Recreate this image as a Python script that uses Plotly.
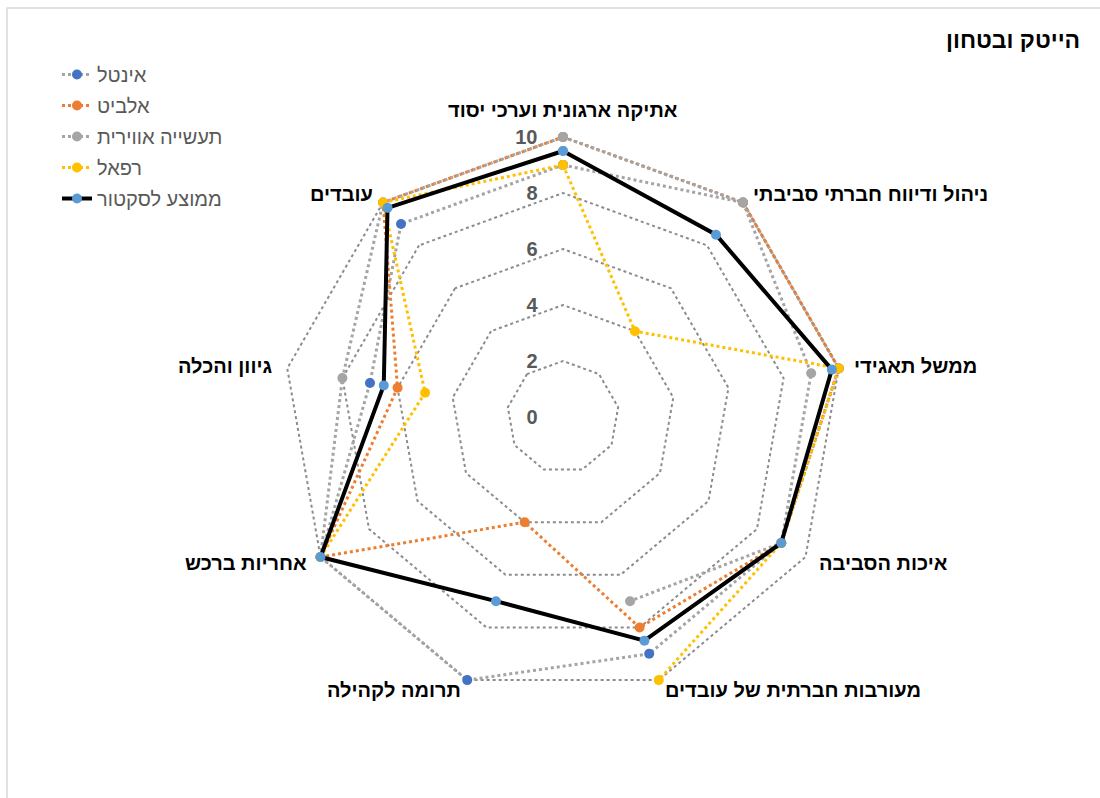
import math
import plotly.graph_objects as go

categories = [
    "אתיקה ארגונית וערכי יסוד",
    "ניהול ודיווח חברתי סביבתי",
    "ממשל תאגידי",
    "איכות הסביבה",
    "מעורבות חברתית של עובדים",
    "תרומה לקהילה",
    "אחריות ברכש",
    "גיוון והכלה",
    "עובדים",
]

intel = [9, 10, 10, 9, 9, 10, 10, 7, 9]
elbit = [10, 10, 10, 9, 8, 4, 10, 6, 10]
iai = [10, 10, 9, 9, 7, None, 10, 8, 10]
rafael = [9, 4, 10, 9, 10, None, 10, 5, 10]
sector_avg = [9.5, 8.5, 9.75, 9, 8.5, 7, 10, 6.5, 9.75]

radial_ticks = [0, 2, 4, 6, 8, 10]

FONT = "Liberation Sans, Arial, DejaVu Sans, sans-serif"

series = [
    ("אינטל", intel, "#A5A5A5", "#4472C4", "dot", 3),
    ("אלביט", elbit, "#ED7D31", "#ED7D31", "dot", 3),
    ("תעשייה אווירית", iai, "#A5A5A5", "#A5A5A5", "dot", 3),
    ("רפאל", rafael, "#FFC000", "#FFC000", "dot", 3),
    ("ממוצע לסקטור", sector_avg, "#000000", "#5B9BD5", "solid", 4),
]

fig = go.Figure()
for name, vals, line_col, mark_col, dash, w in series:
    # close the loop back to the first category
    fig.add_trace(go.Scatterpolar(
        r=vals + vals[:1],
        theta=categories + categories[:1],
        name=name,
        legendgroup=name,
        mode="lines+markers",
        connectgaps=False,
        cliponaxis=False,
        line=dict(color=line_col, width=w, dash=dash),
        marker=dict(color=mark_col, size=10, line=dict(width=0)),
    ))

cx, cy, rad = 563, 417, 280     # rad = pixel radius of the value 10
W, H = 1100, 798
r_max = 10.3                    # a bit of headroom so lines on the 10 ring aren't clipped
dom = rad * r_max / 10

# category labels placed around the outer ring, Excel style
annotations = []
n = len(categories)
for i, cat in enumerate(categories):
    a = math.radians(360 * i / n)
    s, c = math.sin(a), math.cos(a)
    vx, vy = cx + rad * s, cy - rad * c
    if i == 0:
        x, y, xa = vx, vy - 27, "center"
    else:
        x, y = vx + 13 * s, vy - 11 * c
        xa = "left" if s > 0 else "right"
    annotations.append(dict(
        text=cat, xref="paper", yref="paper",
        x=x / W, y=1 - y / H, xanchor=xa, yanchor="middle",
        showarrow=False,
        font=dict(size=20, color="#000000", weight="bold"),
    ))

annotations.append(dict(
    text="הייטק ובטחון",
    xref="paper", yref="paper",
    x=1082 / W, y=1 - 40 / H,
    xanchor="right", yanchor="middle",
    showarrow=False,
    font=dict(size=23, color="#000000", weight="bold"),
))

fig.update_layout(
    width=W,
    height=H,
    margin=dict(l=0, r=0, t=0, b=0),
    paper_bgcolor="white",
    font=dict(family=FONT),
    polar=dict(
        domain=dict(
            x=[(cx - dom) / W, (cx + dom) / W],
            y=[(H - cy - dom) / H, (H - cy + dom) / H],
        ),
        bgcolor="rgba(0,0,0,0)",
        gridshape="linear",
        radialaxis=dict(
            range=[0, r_max],
            tickvals=radial_ticks,
            angle=90,
            side="counterclockwise",
            tickangle=90,
            showline=False,
            ticks="outside",
            ticklen=18,
            tickcolor="rgba(0,0,0,0)",
            showgrid=True,
            gridcolor="#8C8C8C",
            gridwidth=2,
            griddash="dot",
            tickfont=dict(size=20, color="#595959", weight="bold"),
            layer="below traces",
        ),
        angularaxis=dict(
            direction="clockwise",
            rotation=90,
            showgrid=False,
            showline=False,
            ticks="",
            showticklabels=False,
            layer="below traces",
        ),
    ),
    legend=dict(
        x=57 / W,
        y=1 - 55 / H,
        xanchor="left",
        yanchor="top",
        font=dict(size=20, color="#595959"),
        bgcolor="rgba(0,0,0,0)",
        tracegroupgap=2,
    ),
    annotations=annotations,
    shapes=[
        dict(
            type="rect", xref="paper", yref="paper",
            x0=7 / W, y0=-0.05, x1=1.05, y1=1 - 8 / H,
            line=dict(color="#D9D9D9", width=1.5),
            layer="below",
        )
    ],
)

fig.write_html(
    "out.html",
    config={"displayModeBar": False},
    post_script="document.body.style.margin='0';",
)
